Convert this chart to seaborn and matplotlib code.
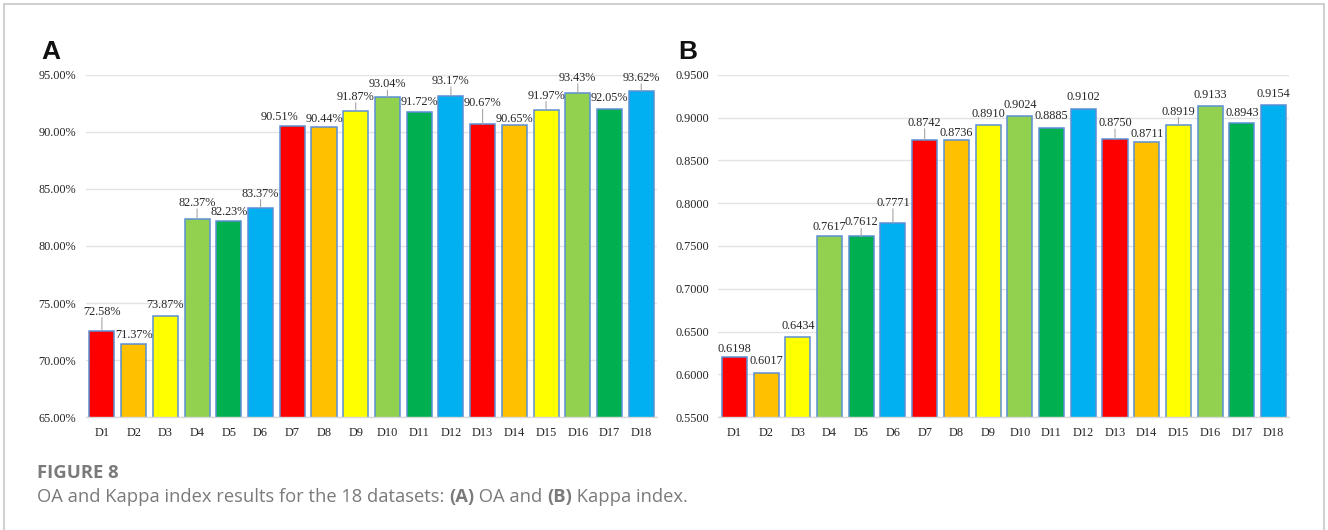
import matplotlib
matplotlib.use("Agg")
import matplotlib.pyplot as plt
import seaborn as sns
import pandas as pd
from matplotlib.lines import Line2D
from matplotlib.ticker import FuncFormatter, MultipleLocator

datasets = [f"D{i}" for i in range(1, 19)]
oa_values = [72.58, 71.37, 73.87, 82.37, 82.23, 83.37, 90.51, 90.44, 91.87,
             93.04, 91.72, 93.17, 90.67, 90.65, 91.97, 93.43, 92.05, 93.62]
kappa_values = [0.6198, 0.6017, 0.6434, 0.7617, 0.7612, 0.7771, 0.8742, 0.8736, 0.8910,
                0.9024, 0.8885, 0.9102, 0.8750, 0.8711, 0.8919, 0.9133, 0.8943, 0.9154]
palette = ["#FF0000", "#FFC000", "#FFFF00", "#92D050", "#00B050", "#00B0F0"] * 3

# label placement (pixels above the bar top, horizontal nudge in pixels)
lift_a = [19, 9, 11, 16, 9, 14, 9, 8, 14, 13, 10, 15, 21, 6, 14, 15, 11, 13]
nudge_a = [0, 0, 0, 0, 0, 0, -13, 0, 0, 0, 0, 0, 0, 0, 0, 0, 0, 0]
lift_b = [8, 12, 11, 9, 14, 20, 17, 7, 11, 11, 12, 12, 16, 8, 13, 11, 10, 11]
nudge_b = [0] * 18

sns.set_theme(style="white")
plt.rcParams["font.family"] = ["Liberation Serif", "DejaVu Sans"]

fig = plt.figure(figsize=(13.28, 5.30), dpi=100)
PX = 72 / fig.dpi  # points per pixel

ax_a = fig.add_axes([0.0648, 0.2132, 0.4300, 0.6453])
ax_b = fig.add_axes([0.5410, 0.2132, 0.4300, 0.6453])

df = pd.DataFrame({"dataset": datasets, "oa": oa_values, "kappa": kappa_values})


def draw_panel(ax, col, ylim, step, fmt, lifts, nudges):
    sns.barplot(data=df, x="dataset", y=col, hue="dataset", palette=palette,
                legend=False, ax=ax, width=0.79, edgecolor="#5B8FD4",
                linewidth=1.1, saturation=1)
    ax.set_ylim(*ylim)
    ax.yaxis.set_major_locator(MultipleLocator(step))
    ax.yaxis.set_major_formatter(FuncFormatter(lambda v, p: fmt(v)))
    ax.set_xlim(-0.5, len(datasets) - 0.5)
    ax.grid(axis="y", color="#E3E3E3", linewidth=1.0)
    ax.set_axisbelow(True)
    for s in ["top", "right", "left"]:
        ax.spines[s].set_visible(False)
    ax.spines["bottom"].set_color("#D9D9D9")
    ax.spines["bottom"].set_linewidth(1.0)
    ax.set_xlabel("")
    ax.set_ylabel("")
    ax.tick_params(axis="both", length=0, labelsize=8.8, colors="#262626")
    ax.tick_params(axis="x", pad=7)
    ax.tick_params(axis="y", pad=7)
    for i, v in enumerate(df[col]):
        dy = lifts[i]
        ax.annotate(fmt(v), xy=(i, v), xytext=(nudges[i] * PX, dy * PX),
                    textcoords="offset points", ha="center", va="center",
                    fontsize=8.8, color="#262626")
        if dy >= 13:
            # thin leader from the bar top up to the label
            ax.annotate("", xy=(i, v), xytext=(0, (dy - 6) * PX),
                        textcoords="offset points",
                        arrowprops=dict(arrowstyle="-", color="#A6A6A6",
                                        linewidth=0.8, shrinkA=0, shrinkB=0))


draw_panel(ax_a, "oa", (65, 95), 5, lambda v: f"{v:.2f}%", lift_a, nudge_a)
draw_panel(ax_b, "kappa", (0.55, 0.95), 0.05, lambda v: f"{v:.4f}", lift_b, nudge_b)

fig.text(0.031, 0.889, "A", fontsize=19, fontweight="bold",
         family="Liberation Sans", color="#111111", va="baseline")
fig.text(0.5105, 0.889, "B", fontsize=19, fontweight="bold",
         family="Liberation Sans", color="#111111", va="baseline")

fig.text(0.028, 0.1075, "FIGURE 8", fontsize=13.3, fontweight="bold",
         family="Open Sans", color="#7A7A7A", va="center")
cap_y = 0.0623
first = fig.text(0.028, cap_y, "OA and Kappa index results for the 18 datasets: ",
                 fontsize=13.2, family="Open Sans", color="#7A7A7A", va="center")

fig.canvas.draw()
x = first.get_window_extent().x1 / fig.bbox.width
parts = [("(A)", "bold"), (" OA and ", "normal"), ("(B)", "bold"), (" Kappa index.", "normal")]
for txt, w in parts:
    t = fig.text(x, cap_y, txt, fontsize=13.2, family="Open Sans",
                 fontweight=w, color="#7A7A7A", va="center")
    fig.canvas.draw()
    x = t.get_window_extent().x1 / fig.bbox.width

# thin frame around the figure panel
frame_kw = dict(color="#D0D0D0", linewidth=1.5, transform=fig.transFigure)
fig.add_artist(Line2D([0.003, 0.997], [0.992, 0.992], **frame_kw))
fig.add_artist(Line2D([0.003, 0.003], [0.0, 0.992], **frame_kw))
fig.add_artist(Line2D([0.997, 0.997], [0.0, 0.992], **frame_kw))

fig.savefig("out.png", dpi=100)
